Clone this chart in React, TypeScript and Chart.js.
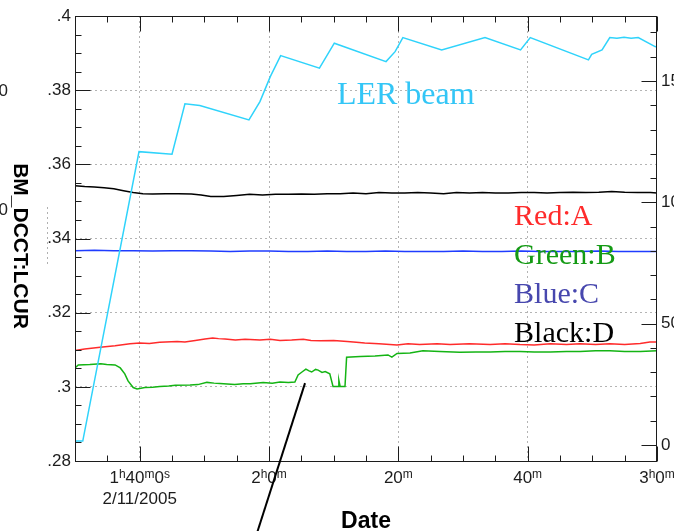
import { useEffect, useRef } from "react";
import { Chart, registerables } from "chart.js";

Chart.register(...registerables);

const WIDTH = 674;
const HEIGHT = 531;
const SANS = '"Liberation Sans", Arial, sans-serif';
const SERIF = '"Liberation Serif", "Times New Roman", serif';

// Time axis: minutes after midnight, 2/11/2005 (1:30 .. 3:00)
const timeMin = 90;
const timeMax = 180;
const xMajorValues = [100, 120, 140, 160, 180];
const xMajorLabels = ["1h40m0s", "2h0m", "20m", "40m", "3h0m"];
const firstDateLabel = "2/11/2005";

// LER beam current, right axis
const lerTime = [90.15, 91.2, 99.9, 105.0, 107.0, 109.3, 116.9, 118.6, 120.2, 121.8, 127.8, 130.1, 138.1, 139.5, 140.7, 146.7, 153.4, 158.9, 160.4, 169.4, 169.9, 171.5, 172.7, 173.8, 174.9, 176.0, 177.1, 179.7, 180];
const lerCurrent = [16, 16, 1209, 1198, 1406, 1399, 1340, 1415, 1518, 1605, 1553, 1656, 1580, 1621, 1679, 1628, 1679, 1628, 1679, 1587, 1610, 1628, 1679, 1676, 1680, 1676, 1679, 1642, 1640];

// Black:D
const blackTime = [90, 91.5, 93, 94.5, 96, 97.5, 99, 100.5, 102, 104, 106, 108, 109.5, 111, 113, 115, 117, 119, 121, 123, 125, 127, 129, 131, 133, 135, 137, 139, 141, 143, 145, 147, 149, 151, 153, 155, 157, 159, 161, 163, 165, 167, 169, 171, 173, 175, 177, 179, 180];
const blackValue = [0.3542, 0.354, 0.3539, 0.3537, 0.3534, 0.3529, 0.3524, 0.3521, 0.352, 0.3521, 0.3521, 0.352, 0.3517, 0.3513, 0.3513, 0.3516, 0.3519, 0.3517, 0.3519, 0.3519, 0.352, 0.3519, 0.3521, 0.3521, 0.3523, 0.3521, 0.3524, 0.3523, 0.3523, 0.3524, 0.3523, 0.3521, 0.3524, 0.3523, 0.3524, 0.3523, 0.3523, 0.3524, 0.3524, 0.3523, 0.3524, 0.3525, 0.3524, 0.3525, 0.3527, 0.3525, 0.3524, 0.3524, 0.3523];

// Blue:C
const blueTime = [90, 93, 96, 99, 102, 105, 108, 111, 114, 117, 120, 123, 126, 129, 132, 135, 138, 141, 144, 147, 150, 153, 156, 159, 162, 165, 168, 171, 174, 177, 180];
const blueValue = [0.3367, 0.3368, 0.3367, 0.3367, 0.3366, 0.3367, 0.3367, 0.3366, 0.3365, 0.3366, 0.3366, 0.3365, 0.3365, 0.3366, 0.3365, 0.3365, 0.3366, 0.3365, 0.3365, 0.3365, 0.3366, 0.3365, 0.3365, 0.3366, 0.3365, 0.3365, 0.3365, 0.3366, 0.3365, 0.3365, 0.3365];

// Red:A
const redTime = [90, 91.5, 93.9, 96.2, 98.5, 100, 101.5, 103.1, 105.8, 107, 108.6, 110.1, 111.3, 112.2, 113.2, 114.8, 116.3, 118.6, 120.2, 121.7, 123.5, 125.3, 126.5, 127.9, 130, 132.1, 133.5, 134.8, 137, 139.8, 141.5, 143.3, 146, 148, 151, 154.2, 156.5, 158.8, 161, 163.5, 166, 168.1, 170.5, 172.7, 175, 177.4, 178.9, 180];
const redValue = [0.3098, 0.3102, 0.3107, 0.3111, 0.3116, 0.3118, 0.3117, 0.312, 0.3122, 0.3121, 0.3125, 0.3129, 0.3132, 0.313, 0.3129, 0.3126, 0.3128, 0.3126, 0.3128, 0.3125, 0.3126, 0.3128, 0.3125, 0.3124, 0.3125, 0.3122, 0.312, 0.3118, 0.3116, 0.3113, 0.3116, 0.3114, 0.3116, 0.3114, 0.3116, 0.3114, 0.3116, 0.3114, 0.3113, 0.3116, 0.3114, 0.3116, 0.3114, 0.3116, 0.3114, 0.3117, 0.3121, 0.3121];

// Green:B
const greenTime = [90, 90.5, 92.3, 94, 94.9, 96.2, 97, 97.7, 98.2, 99, 99.6, 100.8, 102, 103.1, 104.5, 105.5, 107.8, 109, 110.4, 111.5, 112.4, 114.7, 116, 117.1, 119.1, 120.5, 121.7, 123, 124, 124.5, 125.1, 125.7, 126.2, 126.6, 127.2, 127.6, 128.2, 128.7, 129.4, 129.9, 130.7, 130.8, 131, 131.75, 132, 134.1, 136.4, 138.4, 139, 139.8, 141.8, 143.8, 146.4, 149.5, 152, 154.2, 156.5, 158.8, 161, 163.5, 166, 168.1, 170.5, 172.7, 175, 177.4, 180];
const greenValue = [0.3051, 0.3059, 0.306, 0.3062, 0.306, 0.3059, 0.3051, 0.3035, 0.3016, 0.2998, 0.2994, 0.2998, 0.2999, 0.3001, 0.3002, 0.3004, 0.3005, 0.3006, 0.3012, 0.301, 0.3009, 0.3006, 0.3008, 0.3008, 0.3012, 0.301, 0.3013, 0.3012, 0.3013, 0.3032, 0.304, 0.3048, 0.3043, 0.304, 0.3047, 0.3045, 0.3039, 0.3041, 0.3035, 0.3001, 0.3001, 0.3018, 0.3001, 0.3001, 0.308, 0.3082, 0.3083, 0.3086, 0.308, 0.309, 0.3091, 0.3097, 0.3095, 0.3093, 0.3094, 0.3094, 0.3095, 0.3095, 0.3094, 0.3094, 0.3095, 0.3095, 0.3097, 0.3097, 0.3095, 0.3095, 0.3097];

// In-plot series names, anchored in data units (left edge, baseline)
const seriesNotes = [
  { text: "LER beam", color: "#33c6f6", t: 130.5, v: 0.3762, size: 32 },
  { text: "Red:A", color: "#ff2b2b", t: 157.9, v: 0.3436, size: 30 },
  { text: "Green:B", color: "#149a14", t: 157.9, v: 0.3331, size: 30 },
  { text: "Blue:C", color: "#4747ae", t: 157.9, v: 0.3226, size: 30 },
  { text: "Black:D", color: "#000000", t: 157.9, v: 0.3121, size: 30 },
];

// Pointer line drawn toward the green trace
const pointer = { fromT: 125.57, fromV: 0.301, toT: 117.8, toV: 0.2587 };

const MAJOR_TICK = 15;
const MINOR_TICK = 6;

function isMultiple(v: number, step: number) {
  const r = v / step;
  return Math.abs(r - Math.round(r)) < 1e-6;
}

function stepValues(min: number, max: number, step: number) {
  const out: number[] = [];
  const n = Math.round((max - min) / step);
  for (let i = 0; i <= n; i++) out.push(+(min + i * step).toFixed(4));
  return out;
}

function fmtLeft(v: number) {
  return (Math.round(v * 100) / 100).toString().replace(/^0/, "");
}

function drawTimeLabel(ctx: CanvasRenderingContext2D, text: string, cx: number, baseline: number) {
  const runs = text.match(/\d+|[a-z]+/g) || [];
  const big = `17px ${SANS}`;
  const small = `12px ${SANS}`;
  const widths = runs.map((r) => {
    ctx.font = /\d/.test(r) ? big : small;
    return ctx.measureText(r).width;
  });
  const total = widths.reduce((s, w) => s + w, 0);
  let px = cx - total / 2;
  runs.forEach((r, i) => {
    const sup = !/\d/.test(r);
    ctx.font = sup ? small : big;
    ctx.fillText(r, px, sup ? baseline - 5 : baseline);
    px += widths[i];
  });
}

const decorPlugin = {
  id: "decor",
  afterDraw(chart: any) {
    const { ctx, chartArea: a, scales } = chart;
    const { x, y, y2 } = scales;
    const crisp = (v: number) => Math.round(v) + 0.5;
    const L = crisp(a.left);
    const R = crisp(a.right) - 1;
    const T = crisp(a.top);
    const B = crisp(a.bottom);

    ctx.save();
    // frame and inward tick marks
    ctx.strokeStyle = "#1c1c1c";
    ctx.lineWidth = 1;
    ctx.setLineDash([]);
    ctx.strokeRect(L, T, R - L, B - T);
    ctx.beginPath();
    for (const t of x.ticks) {
      const px = crisp(x.getPixelForValue(t.value));
      const len = isMultiple(t.value, 20) ? MAJOR_TICK : MINOR_TICK;
      ctx.moveTo(px, B);
      ctx.lineTo(px, B - len);
      ctx.moveTo(px, T);
      ctx.lineTo(px, T + len);
    }
    for (const t of y.ticks) {
      const py = crisp(y.getPixelForValue(t.value));
      const len = isMultiple(t.value, 0.02) ? MAJOR_TICK : MINOR_TICK;
      ctx.moveTo(L, py);
      ctx.lineTo(L + len, py);
    }
    for (const t of y2.ticks) {
      const py = crisp(y2.getPixelForValue(t.value));
      const len = isMultiple(t.value, 500) ? MAJOR_TICK : MINOR_TICK;
      ctx.moveTo(R, py);
      ctx.lineTo(R - len, py);
    }
    ctx.stroke();

    // time labels under the axis
    ctx.fillStyle = "#1c1c1c";
    ctx.textAlign = "left";
    ctx.textBaseline = "alphabetic";
    xMajorValues.forEach((v, i) => {
      drawTimeLabel(ctx, xMajorLabels[i], x.getPixelForValue(v), a.bottom + 22);
    });
    ctx.font = `17px ${SANS}`;
    ctx.textAlign = "center";
    ctx.fillText(firstDateLabel, x.getPixelForValue(xMajorValues[0]), a.bottom + 43);

    // axis titles
    ctx.font = `bold 23px ${SANS}`;
    ctx.fillStyle = "#000";
    ctx.fillText("Date", (a.left + a.right) / 2, 528);
    ctx.save();
    ctx.translate(20, 246);
    ctx.rotate(Math.PI / 2);
    ctx.font = `bold 21px ${SANS}`;
    ctx.textBaseline = "middle";
    ctx.fillText("BM_DCCT:LCUR", 0, 0);
    ctx.restore();

    // neighbouring axis remnants on the far left
    ctx.font = `17px ${SANS}`;
    ctx.textAlign = "right";
    ctx.textBaseline = "middle";
    ctx.fillStyle = "#222";
    ctx.fillText("0", 8, 91);
    ctx.fillText("0", 8, 210);
    ctx.strokeStyle = "#b0b0b0";
    ctx.setLineDash([2, 3]);
    ctx.beginPath();
    ctx.moveTo(47.5, 207);
    ctx.lineTo(47.5, 266);
    ctx.stroke();
    ctx.setLineDash([]);

    // series names
    ctx.textAlign = "left";
    ctx.textBaseline = "alphabetic";
    for (const n of seriesNotes) {
      ctx.font = `${n.size}px ${SERIF}`;
      ctx.fillStyle = n.color;
      ctx.fillText(n.text, x.getPixelForValue(n.t), y.getPixelForValue(n.v));
    }

    // pointer line
    ctx.strokeStyle = "#000";
    ctx.lineWidth = 2;
    ctx.beginPath();
    ctx.moveTo(x.getPixelForValue(pointer.fromT), y.getPixelForValue(pointer.fromV));
    ctx.lineTo(x.getPixelForValue(pointer.toT), y.getPixelForValue(pointer.toV));
    ctx.stroke();
    ctx.restore();
  },
};

function series(label: string, t: number[], v: number[], color: string, axis: string) {
  return {
    label,
    data: t.map((tt, i) => ({ x: tt, y: v[i] })),
    borderColor: color,
    backgroundColor: color,
    borderWidth: 1.5,
    pointRadius: 0,
    tension: 0,
    fill: false,
    yAxisID: axis,
  };
}

const gridColor = (step: number, lo: number, hi: number) => (c: any) => {
  const v = c.tick ? c.tick.value : NaN;
  if (!isMultiple(v, step) || Math.abs(v - lo) < 1e-6 || Math.abs(v - hi) < 1e-6) return "rgba(0,0,0,0)";
  return "#b4b4b4";
};

export default function App() {
  const ref = useRef<HTMLCanvasElement | null>(null);

  useEffect(() => {
    document.body.style.margin = "0";
    document.body.style.overflow = "hidden";
    const canvas = ref.current;
    if (!canvas) return;
    const chart = new Chart(canvas, {
      type: "line",
      data: {
        datasets: [
          series("LER beam", lerTime, lerCurrent, "#2fd3fb", "y2"),
          series("Black:D", blackTime, blackValue, "#000000", "y"),
          series("Blue:C", blueTime, blueValue, "#1f3cff", "y"),
          series("Red:A", redTime, redValue, "#ff2b2b", "y"),
          series("Green:B", greenTime, greenValue, "#14b414", "y"),
        ] as any,
      },
      options: {
        responsive: false,
        animation: false,
        devicePixelRatio: 1,
        layout: { padding: { top: 16, left: 0, right: 0, bottom: 0 } },
        plugins: { legend: { display: false }, tooltip: { enabled: false } },
        scales: {
          x: {
            type: "linear",
            position: "bottom",
            min: timeMin,
            max: timeMax,
            afterBuildTicks: (s: any) => {
              s.ticks = stepValues(timeMin, timeMax, 5).map((value) => ({ value }));
            },
            afterFit: (s: any) => {
              s.height = 70;
            },
            ticks: { display: false, autoSkip: false },
            grid: { drawTicks: false, lineWidth: 1, color: gridColor(20, timeMin, timeMax) },
            border: { display: false, dash: [2, 3] },
          },
          y: {
            type: "linear",
            position: "left",
            min: 0.28,
            max: 0.4,
            afterBuildTicks: (s: any) => {
              s.ticks = stepValues(0.28, 0.4, 0.005).map((value) => ({ value }));
            },
            afterFit: (s: any) => {
              s.width = 75;
            },
            ticks: {
              autoSkip: false,
              padding: 4,
              color: "#1c1c1c",
              font: { family: SANS, size: 17 },
              callback: (v: any) => (isMultiple(Number(v), 0.02) ? fmtLeft(Number(v)) : ""),
            },
            grid: { drawTicks: false, lineWidth: 1, color: gridColor(0.02, 0.28, 0.4) },
            border: { display: false, dash: [2, 3] },
          },
          y2: {
            type: "linear",
            position: "right",
            min: -66,
            max: 1768,
            afterBuildTicks: (s: any) => {
              s.ticks = stepValues(0, 1700, 100).map((value) => ({ value }));
            },
            afterFit: (s: any) => {
              s.width = 17;
            },
            ticks: {
              autoSkip: false,
              padding: 4,
              color: "#1c1c1c",
              font: { family: SANS, size: 17 },
              callback: (v: any) => (isMultiple(Number(v), 500) ? String(v) : ""),
            },
            grid: { display: false, drawTicks: false },
            border: { display: false },
          },
        },
      } as any,
      plugins: [decorPlugin],
    });
    return () => chart.destroy();
  }, []);

  return (
    <div style={{ width: WIDTH, height: HEIGHT, background: "#fff" }}>
      <canvas ref={ref} width={WIDTH} height={HEIGHT} style={{ display: "block" }} />
    </div>
  );
}
